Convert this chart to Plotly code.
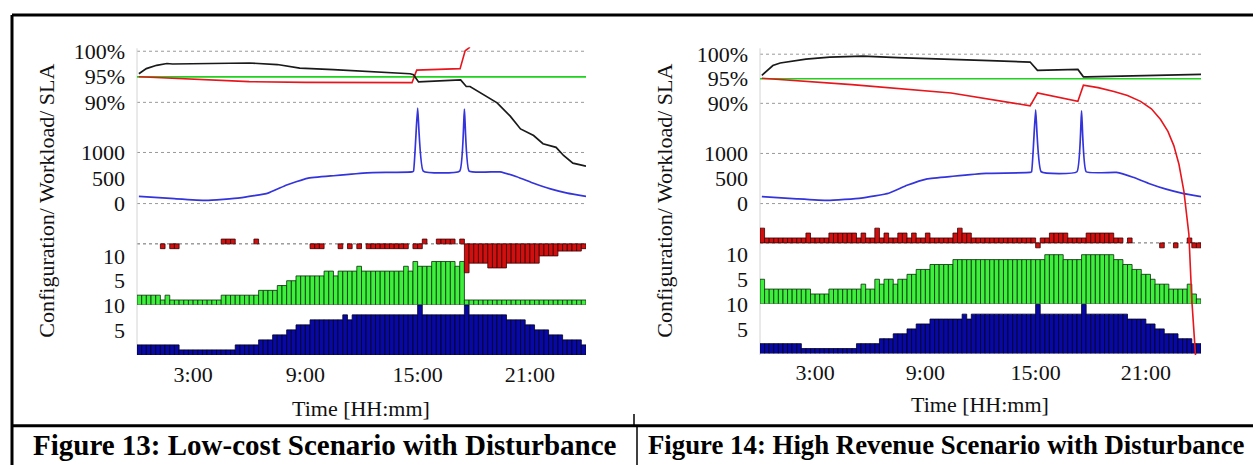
import plotly.graph_objects as go

W, H = 1253, 465
FONT = "Liberation Serif"

# ---------------- data ----------------
# 96 quarter-hour configuration slots (0:00 .. 24:00)
slot_hours = [i * 0.25 + 0.125 for i in range(96)]

time_ticks = [3, 9, 15, 21]
time_tick_labels = ["3:00", "9:00", "15:00", "21:00"]

sla_ticks = [90, 95, 100]
sla_tick_labels = ["90%", "95%", "100%"]
workload_ticks = [0, 500, 1000]
workload_tick_labels = ["0", "500", "1000"]
config_ticks = [5, 10]
config_tick_labels = ["5", "10"]

# workload (requests) - identical input for both scenarios
workload_hours = [0.1, 2.0, 3.7, 5.5, 7.0, 8.0, 9.1, 10.5, 12.3, 14.7, 14.78, 15.0, 15.3,
                  17.25, 17.5, 17.75, 19.4, 20.3, 21.2, 22.1, 23.0, 24.0]
workload_values = [140, 95, 63, 110, 205, 365, 494, 545, 602, 621, 635, 1870, 635,
                   635, 1850, 635, 621, 525, 397, 288, 205, 140]

sla_target_hours = [0.0, 24.0]
sla_target_values = [95, 95]

# Figure 13: low-cost scenario
lc_black_hours = [0.1, 0.5, 1.05, 1.6, 1.9, 6.0, 7.5, 8.7, 10.5, 12.3, 14.6, 14.78, 15.05,
                  17.3, 17.6, 17.8, 19.25, 19.95, 20.5, 21.2, 21.7, 22.4, 22.8, 23.3, 24.0]
lc_black_values = [95.6, 96.6, 97.25, 97.6, 97.5, 97.7, 97.4, 96.7, 96.4, 96.0, 95.6, 95.4, 94.0,
                   94.4, 93.1, 93.1, 89.9, 87.3, 84.8, 83.5, 81.9, 81.2, 79.6, 78.1, 77.5]
lc_red_hours = [0.1, 3.0, 6.0, 9.0, 14.6, 14.7, 14.95, 17.27, 17.54, 17.8]
lc_red_values = [95.0, 94.6, 94.05, 93.9, 93.8, 93.85, 96.3, 96.6, 100.1, 100.8]

lc_blue = [2, 2, 2, 2, 2, 2, 2, 2, 2, 1, 1, 1,
           1, 1, 1, 1, 1, 1, 1, 1, 1, 2, 2, 2,
           2, 2, 3, 3, 3, 4, 4, 4, 5, 5, 6, 6,
           6, 7, 7, 7, 7, 7, 7, 7, 8, 7, 8, 8,
           8, 8, 8, 8, 8, 8, 8, 8, 8, 8, 8, 8,
           10, 8, 8, 8, 8, 8, 8, 8, 8, 8, 10, 8,
           8, 8, 8, 8, 8, 8, 8, 7, 7, 7, 7, 6,
           6, 5, 5, 5, 4, 4, 4, 3, 3, 3, 3, 2]
lc_green = [2, 2, 2, 2, 2, 1, 2, 1, 1, 1, 1, 1,
            1, 1, 1, 1, 1, 1, 2, 2, 2, 2, 2, 2,
            2, 2, 3, 3, 3, 3, 4, 4, 5, 5, 6, 6,
            6, 6, 6, 6, 7, 7, 6, 7, 7, 7, 7, 8,
            7, 7, 7, 7, 7, 7, 7, 7, 7, 8, 7, 9,
            8, 8, 8, 9, 9, 9, 9, 9, 8, 9, 1, 1,
            1, 1, 1, 1, 1, 1, 1, 1, 1, 1, 1, 1,
            1, 1, 1, 1, 1, 1, 1, 1, 1, 1, 1, 1]
lc_red = [0, 0, 0, 0, 0, -1, 0, -1, -1, 0, 0, 0,
          0, 0, 0, 0, 0, 0, 1, 1, 1, 0, 0, 0,
          0, 1, 0, 0, 0, 0, 0, 0, 0, 0, 0, 0,
          0, -1, -1, -1, 0, 0, 0, -1, 0, -1, 0, -1,
          0, -1, -1, -1, -1, -1, -1, -1, -1, -1, 0, -1,
          -1, 1, 0, 0, 1, 1, 1, 1, 0, 1, -6, -4,
          -4, -4, -4, -5, -5, -5, -5, -4, -4, -4, -4, -4,
          -4, -4, -2.5, -2.5, -2.5, -2.5, -1.5, -1.5, -1.5, -1.5, -1.5, -1]

# Figure 14: high revenue scenario
hr_black_hours = [0.1, 0.7, 1.1, 2.5, 3.8, 5.6, 7.5, 10.4, 12.5, 14.7, 15.1, 17.3, 17.6, 17.8, 24.0]
hr_black_values = [95.7, 97.7, 98.2, 99.0, 99.4, 99.6, 99.3, 99.0, 98.7, 98.4, 96.7, 96.9, 95.4, 95.4, 95.9]
hr_red_hours = [0.1, 5.0, 10.4, 14.7, 15.1, 17.3, 17.6, 18.4, 19.26, 20.0, 20.71, 21.3, 21.8,
                22.2, 22.52, 22.8, 23.07, 23.34, 23.5, 23.75]
hr_red_values = [95.1, 93.8, 92.1, 89.5, 92.1, 90.4, 93.7, 93.2, 92.4, 91.6, 90.4, 88.9, 86.7,
                 84.3, 81.4, 77.6, 72.1, 63.4, 50.0, 36.0]

hr_blue = [2, 2, 2, 2, 2, 2, 2, 2, 2, 1, 1, 1,
           1, 1, 1, 1, 1, 1, 1, 1, 1, 2, 2, 2,
           2, 2, 3, 3, 3, 4, 4, 4, 5, 5, 6, 6,
           6, 7, 7, 7, 7, 7, 7, 7, 8, 7, 8, 8,
           8, 8, 8, 8, 8, 8, 8, 8, 8, 8, 8, 8,
           10, 8, 8, 8, 8, 8, 8, 8, 8, 8, 10, 8,
           8, 8, 8, 8, 8, 8, 8, 8, 7, 7, 7, 7,
           6, 6, 5, 5, 4, 4, 4, 3, 3, 3, 2, 2]
hr_green = [5, 3, 3, 3, 3, 3, 3, 3, 3, 3, 3, 2,
            2, 2, 2, 3, 3, 3, 3, 3, 3, 3, 4, 3,
            3, 5, 4, 5, 5, 4, 5, 5, 6, 6, 7, 7,
            7, 8, 8, 8, 8, 8, 9, 9, 9, 9, 9, 9,
            9, 9, 9, 9, 9, 9, 9, 9, 9, 9, 9, 9,
            9, 9, 10, 10, 10, 10, 9, 9, 9, 9, 10, 10,
            10, 10, 10, 10, 10, 9, 9, 8, 8, 7, 7, 6,
            6, 5, 4, 4, 4, 3, 3, 3, 3, 4, 2, 1]
hr_red = [3, 1, 1, 1, 1, 1, 1, 1, 1, 1, 2, 1,
          1, 1, 1, 2, 2, 2, 2, 2, 2, 1, 2, 1,
          1, 3, 1, 2, 1, 1, 2, 2, 1, 2, 1, 1,
          2, 1, 1, 1, 1, 1, 2, 3, 2, 2, 1, 1,
          1, 1, 1, 1, 1, 1, 1, 1, 1, 1, 1, 1,
          -1, 1, 1, 2, 2, 2, 2, 1, 1, 1, 1, 2,
          2, 2, 2, 2, 2, 1, 1, 0, 1, 0, 0, 0,
          0, 0, 0, -1, 0, 0, -1, 0, 0, 1, -1, -1]

captions = ["Figure 13: Low-cost Scenario with Disturbance",
            "Figure 14: High Revenue Scenario with Disturbance"]
y_title = "Configuration/ Workload/ SLA"
x_title = "Time [HH:mm]"

# ---------------- styling ----------------
C_BLACK = "#1a1a1a"
C_RED_LINE = "#e8161c"
C_GREEN_LINE = "#1ed21e"
C_BLUE_LINE = "#3434dc"
C_RED_BAR = "#d10f0f"
C_GREEN_BAR = "#3cf03c"
C_BLUE_BAR = "#0808a6"
GRID = "#9a9a9a"


def px_x(p):
    return p / W


def px_y(p):
    return 1 - p / H


def y_axis(p_bottom, p_top, v_a, p_a, v_b, p_b, anchor, tickvals=None, ticktext=None):
    slope = (v_b - v_a) / (p_b - p_a)
    r0 = v_a + (p_bottom - p_a) * slope
    r1 = v_a + (p_top - p_a) * slope
    ax = dict(domain=[px_y(p_bottom), px_y(p_top)], range=[r0, r1], anchor=anchor,
              showgrid=False, zeroline=False, showline=False, fixedrange=True,
              ticks="", tickfont=dict(family=FONT, size=22, color="#111"))
    if tickvals is None:
        ax["showticklabels"] = False
    else:
        ax["tickvals"] = tickvals
        ax["ticktext"] = ticktext
        ax["ticklabelstandoff"] = 11
    return ax


def nz(vals):
    return [v if v != 0 else None for v in vals]


panels = [
    dict(x="x", ax_x=(137, 586), ids=["y", "y2", "y3", "y4", "y5"],
         blue_map=(353, 297, 0, 353, 10, 302),
         green_map=(302, 249, 0, 302, 10, 253),
         red_map=(272, 226, 0, 240, 1, 235.1),
         wl_map=(353, 40, 0, 199, 1000, 147),
         sla_map=(353, 40, 90, 96, 100, 44),
         blue=lc_blue, green=lc_green, red=lc_red,
         black=(lc_black_hours, lc_black_values), redl=(lc_red_hours, lc_red_values),
         ytitle_x=47, xtitle=(361, 408), caption_x=325, caption_size=29),
    dict(x="x2", ax_x=(760, 1201), ids=["y6", "y7", "y8", "y9", "y10"],
         blue_map=(351.5, 296, 0, 351.5, 10, 301.5),
         green_map=(301, 246, 0, 301, 10, 251),
         red_map=(252, 219, 0, 239, 1, 234),
         wl_map=(353, 40, 0, 199, 1000, 148),
         sla_map=(353, 40, 90, 97, 100, 47),
         blue=hr_blue, green=hr_green, red=hr_red,
         black=(hr_black_hours, hr_black_values), redl=(hr_red_hours, hr_red_values),
         ytitle_x=665, xtitle=(980, 403), caption_x=946, caption_size=26.8),
]

fig = go.Figure()
layout = dict(width=W, height=H, autosize=False, margin=dict(l=0, r=0, t=0, b=0, pad=0),
              paper_bgcolor="white", plot_bgcolor="rgba(0,0,0,0)", showlegend=False,
              barmode="overlay", font=dict(family=FONT, size=22, color="#111"))
shapes = []
annotations = []

for k, p in enumerate(panels):
    xname = "xaxis" if p["x"] == "x" else "xaxis2"
    yb, yg, yr, yw, ys = p["ids"]
    layout[xname] = dict(domain=[px_x(p["ax_x"][0]), px_x(p["ax_x"][1])], range=[0, 24],
                         anchor=yb, showgrid=False, zeroline=False, showline=False,
                         fixedrange=True, ticks="", tickvals=time_ticks, ticktext=time_tick_labels,
                         ticklabelstandoff=4, tickfont=dict(family=FONT, size=22, color="#111"))

    def lname(i):
        return "yaxis" if i == "y" else "yaxis" + i[1:]

    layout[lname(yb)] = y_axis(*p["blue_map"], anchor=p["x"], tickvals=config_ticks, ticktext=config_tick_labels)
    layout[lname(yg)] = y_axis(*p["green_map"], anchor=p["x"], tickvals=config_ticks, ticktext=config_tick_labels)
    layout[lname(yr)] = y_axis(*p["red_map"], anchor=p["x"])
    layout[lname(yw)] = y_axis(*p["wl_map"], anchor=p["x"], tickvals=workload_ticks, ticktext=workload_tick_labels)
    layout[lname(ys)] = y_axis(*p["sla_map"], anchor=p["x"], tickvals=sla_ticks, ticktext=sla_tick_labels)

    # bars
    fig.add_trace(go.Bar(x=slot_hours, y=p["blue"], width=0.25, xaxis=p["x"], yaxis=yb,
                         marker=dict(color=C_BLUE_BAR, line=dict(color="#00001e", width=0.8))))
    fig.add_trace(go.Bar(x=slot_hours, y=p["green"], width=0.25, xaxis=p["x"], yaxis=yg,
                         marker=dict(color=C_GREEN_BAR, line=dict(color="#0a2a0a", width=0.8))))
    fig.add_trace(go.Bar(x=slot_hours, y=nz(p["red"]), width=0.25, xaxis=p["x"], yaxis=yr,
                         marker=dict(color=C_RED_BAR, line=dict(color="#3a0000", width=0.8))))
    # workload
    fig.add_trace(go.Scatter(x=workload_hours, y=workload_values, mode="lines", xaxis=p["x"], yaxis=yw,
                             line=dict(color=C_BLUE_LINE, width=1.7, shape="spline", smoothing=0.35)))
    # SLA lines
    fig.add_trace(go.Scatter(x=sla_target_hours, y=sla_target_values, mode="lines", xaxis=p["x"], yaxis=ys,
                             line=dict(color=C_GREEN_LINE, width=1.7)))
    fig.add_trace(go.Scatter(x=p["redl"][0], y=p["redl"][1], mode="lines", xaxis=p["x"], yaxis=ys,
                             line=dict(color=C_RED_LINE, width=1.6)))
    fig.add_trace(go.Scatter(x=p["black"][0], y=p["black"][1], mode="lines", xaxis=p["x"], yaxis=ys,
                             line=dict(color=C_BLACK, width=1.7)))

    # grid lines
    xd = p["x"] + " domain"
    for v in (90, 100):
        shapes.append(dict(type="line", xref=xd, yref=ys, x0=0, x1=1, y0=v, y1=v, layer="below",
                           line=dict(color=GRID, width=1, dash="dot")))
    for v in (0, 1000):
        shapes.append(dict(type="line", xref=xd, yref=yw, x0=0, x1=1, y0=v, y1=v, layer="below",
                           line=dict(color=GRID, width=1, dash="dot")))
    shapes.append(dict(type="line", xref=xd, yref=yr, x0=0, x1=1, y0=0, y1=0, layer="below",
                       line=dict(color="#6a6a6a", width=1, dash="dot")))
    # vertical axis line
    shapes.append(dict(type="line", xref=xd, yref="paper", x0=0, x1=0,
                       y0=px_y(353), y1=px_y(41), layer="below",
                       line=dict(color="#d4d4d4", width=1)))

    annotations.append(dict(text=y_title, xref="paper", yref="paper", x=px_x(p["ytitle_x"]), y=px_y(196),
                            textangle=-90, showarrow=False, xanchor="center", yanchor="middle",
                            font=dict(family=FONT, size=22, color="#111")))
    annotations.append(dict(text=x_title, xref="paper", yref="paper", x=px_x(p["xtitle"][0]),
                            y=px_y(p["xtitle"][1]), showarrow=False, xanchor="center", yanchor="middle",
                            font=dict(family=FONT, size=22, color="#111")))
    annotations.append(dict(text="<b>" + captions[k] + "</b>", xref="paper", yref="paper",
                            x=px_x(p["caption_x"]), y=px_y(445), showarrow=False,
                            xanchor="center", yanchor="middle",
                            font=dict(family=FONT, size=p["caption_size"], color="#000")))

# frame lines
frame = [((12, 7), (1253, 7), 3), ((12, 7), (12, 465), 3), ((12, 425), (1253, 425), 3),
         ((637, 425), (637, 465), 1.5), ((634, 413), (634, 425), 1.5)]
for (xa, ya), (xb, yb_), wdt in frame:
    shapes.append(dict(type="line", xref="paper", yref="paper", x0=px_x(xa), x1=px_x(xb),
                       y0=px_y(ya), y1=px_y(yb_), line=dict(color="#000", width=wdt)))

layout["shapes"] = shapes
layout["annotations"] = annotations
fig.update_layout(**layout)
fig.write_html("out.html", config={"displayModeBar": False},
               post_script="document.body.style.margin='0';document.body.style.padding='0';"
                           "document.body.style.overflow='hidden';")
